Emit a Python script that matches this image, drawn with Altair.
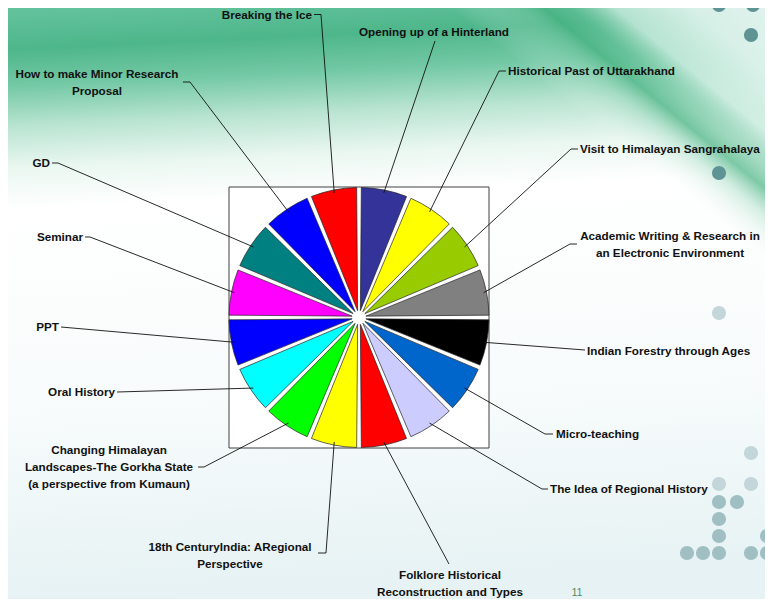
import math
import altair as alt
import pandas as pd

# ---------------- data ----------------
labels = [
    "Opening up of a Hinterland",
    "Historical Past of Uttarakhand",
    "Visit to Himalayan Sangrahalaya",
    "Academic Writing & Research in\nan Electronic Environment",
    "Indian Forestry through Ages",
    "Micro-teaching",
    "The Idea of Regional History",
    "Folklore Historical\nReconstruction and Types",
    "18th CenturyIndia: ARegional\nPerspective",
    "Changing Himalayan\nLandscapes-The Gorkha State\n(a perspective from Kumaun)",
    "Oral History",
    "PPT",
    "Seminar",
    "GD",
    "How to make Minor Research\nProposal",
    "Breaking the Ice",
]
values = [1] * 16

# ---------------- styles ----------------
palette = [
    "#333399", "#ffff00", "#99cc00", "#808080", "#000000", "#0066cc",
    "#ccccff", "#ff0000", "#ffff00", "#00ff00", "#00ffff", "#0000ff",
    "#ff00ff", "#008080", "#0000ff", "#ff0000",
]

# ---------------- layout (page pixel coordinates) ----------------
W, H = 757, 591
CX, CY, R = 359, 317.5, 130
label_x = [434, 508, 580, 670, 587, 556, 550, 450, 230, 109, 115, 59, 83, 50, 97, 312]
label_y = [32, 71, 149, 236, 351, 434, 489, 575, 547, 450, 392, 327, 237, 163, 74, 14.5]
label_align = ["center", "left", "left", "center", "left", "left", "left", "center",
               "center", "center", "right", "right", "right", "right", "center", "right"]
lead_x = [435, 506, 578, 577, 585, 553, 548, 449, 318, 198, 117, 61, 85, 52, 183, 314]
lead_y = [41, 71, 149, 244, 350, 434, 489, 564, 553, 467, 392, 327, 237, 163, 82, 14.5]
elbow_x = [435, 499, 571, 570, 585, 545, 542, 449, 326, 204, 117, 61, 90, 58, 190, 321]
elbow_y = [41, 71, 149, 244, 350, 434, 489, 564, 553, 467, 392, 327, 237, 163, 82, 14.5]
box = dict(x=229, x2=489, y=187, y2=448)

# slide decoration dots (page pixel coordinates)
dot_x = [719, 753, 751, 719, 719, 751, 751, 719, 719, 737, 719, 719, 767, 687, 703, 719, 751, 767]
dot_y = [5, 5, 35, 173, 313, 453, 484, 484, 502, 502, 519, 536, 536, 553, 553, 553, 553, 553]
dot_tone = ["d", "d", "d", "d", "l", "l", "l", "l", "m", "m", "m", "m", "m", "m", "m", "m", "m", "m"]

n = len(labels)
pie_df = pd.DataFrame({"label": labels, "value": values, "idx": list(range(n))})
text_df = pd.DataFrame({"label": labels, "x": label_x, "y": label_y, "align": label_align})
dots_df = pd.DataFrame({"x": dot_x, "y": dot_y, "tone": dot_tone})

rows = []
for i, lab in enumerate(labels):
    a = (i + 0.5) * 2 * math.pi / n
    ra = R - 3
    rows.append({"label": lab, "o": 0, "x": lead_x[i], "y": lead_y[i]})
    rows.append({"label": lab, "o": 1, "x": elbow_x[i], "y": elbow_y[i]})
    rows.append({"label": lab, "o": 2, "x": CX + ra * math.sin(a), "y": CY - ra * math.cos(a)})
lead_df = pd.DataFrame(rows)

xs = alt.Scale(domain=[8, 8 + W], nice=False, zero=False)
ys = alt.Scale(domain=[8, 8 + H], nice=False, zero=False, reverse=True)

one = pd.DataFrame({"k": [0]})

bg = alt.Chart(one).mark_rect(
    fill=alt.Gradient(
        gradient="linear", x1=0, x2=0.06, y1=0, y2=1,
        stops=[
            alt.GradientStop(offset=0.0, color="#64c39e"),
            alt.GradientStop(offset=0.07, color="#4eb68b"),
            alt.GradientStop(offset=0.13, color="#72c8a4"),
            alt.GradientStop(offset=0.2, color="#b9e4d1"),
            alt.GradientStop(offset=0.27, color="#eaf7f1"),
            alt.GradientStop(offset=0.34, color="#ffffff"),
            alt.GradientStop(offset=0.7, color="#f7fbfb"),
            alt.GradientStop(offset=1.0, color="#e6f2f4"),
        ],
    )
).encode(x=alt.value(0), x2=alt.value(W), y=alt.value(0), y2=alt.value(H))

swoosh = alt.Chart(one).mark_rect(
    fill=alt.Gradient(
        gradient="linear", x1=0, y1=1, x2=0.95, y2=0,
        stops=[
            alt.GradientStop(offset=0.0, color="rgba(255,255,255,0)"),
            alt.GradientStop(offset=0.58, color="rgba(255,255,255,0)"),
            alt.GradientStop(offset=0.66, color="rgba(140,210,180,0.35)"),
            alt.GradientStop(offset=0.705, color="rgba(70,178,128,0.7)"),
            alt.GradientStop(offset=0.74, color="rgba(95,190,148,0.55)"),
            alt.GradientStop(offset=0.8, color="rgba(205,237,225,0.8)"),
            alt.GradientStop(offset=0.9, color="rgba(225,244,238,0.92)"),
            alt.GradientStop(offset=1.0, color="rgba(232,246,243,0.95)"),
        ],
    )
).encode(x=alt.value(392), x2=alt.value(W + 8), y=alt.value(-8), y2=alt.value(312))

dots = alt.Chart(dots_df).mark_circle(size=200, opacity=1).encode(
    x=alt.X("x:Q", scale=xs, axis=None),
    y=alt.Y("y:Q", scale=ys, axis=None),
    color=alt.Color("tone:N", scale=alt.Scale(domain=["d", "l", "m"],
                                              range=["#5e9494", "#c3d6da", "#9fbfc3"]),
                    legend=None),
)

frame = alt.Chart(pd.DataFrame([box])).mark_rect(
    fill="#ffffff", stroke="#404040", strokeWidth=1
).encode(
    x=alt.X("x:Q", scale=xs, axis=None),
    x2="x2:Q",
    y=alt.Y("y:Q", scale=ys, axis=None),
    y2="y2:Q",
)

pie = alt.Chart(pie_df).mark_arc(
    outerRadius=R, innerRadius=7, padAngle=0.036, stroke="#222222", strokeWidth=0.7
).encode(
    theta=alt.Theta("value:Q", stack=True),
    order=alt.Order("idx:Q"),
    color=alt.Color("label:N", scale=alt.Scale(domain=labels, range=palette), legend=None),
    x=alt.value(CX - 8),
    y=alt.value(CY - 8),
)

leaders = alt.Chart(lead_df).mark_line(color="#111111", strokeWidth=0.9).encode(
    x=alt.X("x:Q", scale=xs, axis=None),
    y=alt.Y("y:Q", scale=ys, axis=None),
    detail="label:N",
    order="o:Q",
)

text_layers = []
for al in ["left", "right", "center"]:
    text_layers.append(
        alt.Chart(text_df).transform_filter(alt.datum.align == al).mark_text(
            align=al, baseline="middle", lineBreak="\n", lineHeight=17,
            font="Liberation Sans", fontWeight="bold", fontSize=11.7, color="#111111",
        ).encode(
            x=alt.X("x:Q", scale=xs, axis=None),
            y=alt.Y("y:Q", scale=ys, axis=None),
            text="label:N",
        )
    )

page_no = alt.Chart(pd.DataFrame({"t": ["11"], "x": [577], "y": [598]})).mark_text(
    font="Liberation Sans", fontSize=10, color="#4f8a5a", baseline="bottom"
).encode(
    x=alt.X("x:Q", scale=xs, axis=None),
    y=alt.Y("y:Q", scale=ys, axis=None),
    text="t:N",
)

chart = alt.layer(bg, swoosh, dots, frame, pie, leaders, *text_layers, page_no).resolve_scale(
    color="independent"
).properties(
    width=W, height=H, padding=0, autosize=alt.AutoSizeParams(type="none")
).configure_view(strokeWidth=0)

chart.save("out.html", embed_options={"renderer": "svg", "actions": False})
